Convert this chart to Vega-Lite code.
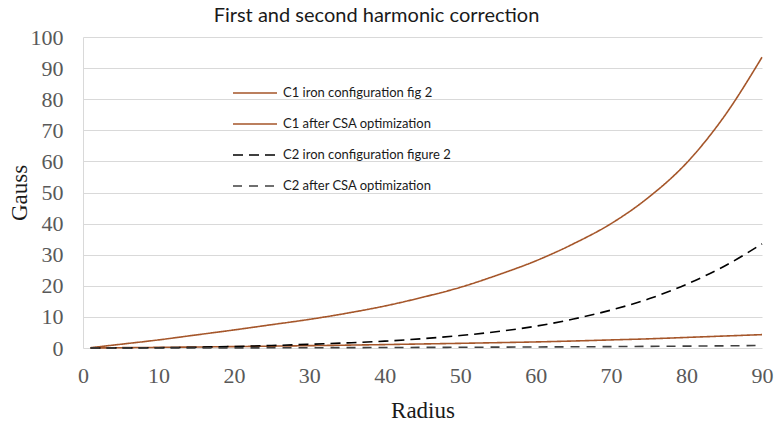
{
  "$schema": "https://vega.github.io/schema/vega-lite/v6.json",
  "autosize": "none",
  "width": 679,
  "height": 311,
  "padding": {"left": 83, "top": 37, "right": 13, "bottom": 77},
  "background": "white",
  "title": {
    "text": "First and second harmonic correction",
    "font": "Lato",
    "fontSize": 20,
    "fontWeight": "normal",
    "color": "#1a1a1a",
    "anchor": "middle",
    "dx": -46,
    "offset": 0
  },
  "data": {
    "values": [
      {"radius": 1, "gauss": 0.1, "series": "C1 iron configuration fig 2"},
      {"radius": 5, "gauss": 1.2, "series": "C1 iron configuration fig 2"},
      {"radius": 10, "gauss": 2.6, "series": "C1 iron configuration fig 2"},
      {"radius": 15, "gauss": 4.2, "series": "C1 iron configuration fig 2"},
      {"radius": 20, "gauss": 5.8, "series": "C1 iron configuration fig 2"},
      {"radius": 25, "gauss": 7.5, "series": "C1 iron configuration fig 2"},
      {"radius": 30, "gauss": 9.2, "series": "C1 iron configuration fig 2"},
      {"radius": 35, "gauss": 11.2, "series": "C1 iron configuration fig 2"},
      {"radius": 40, "gauss": 13.5, "series": "C1 iron configuration fig 2"},
      {"radius": 45, "gauss": 16.3, "series": "C1 iron configuration fig 2"},
      {"radius": 50, "gauss": 19.5, "series": "C1 iron configuration fig 2"},
      {"radius": 55, "gauss": 23.5, "series": "C1 iron configuration fig 2"},
      {"radius": 60, "gauss": 28, "series": "C1 iron configuration fig 2"},
      {"radius": 65, "gauss": 33.5, "series": "C1 iron configuration fig 2"},
      {"radius": 70, "gauss": 40, "series": "C1 iron configuration fig 2"},
      {"radius": 75, "gauss": 48.5, "series": "C1 iron configuration fig 2"},
      {"radius": 80, "gauss": 59.5, "series": "C1 iron configuration fig 2"},
      {"radius": 85, "gauss": 74.5, "series": "C1 iron configuration fig 2"},
      {"radius": 90, "gauss": 93.5, "series": "C1 iron configuration fig 2"},
      {"radius": 1, "gauss": 0, "series": "C1 after CSA optimization"},
      {"radius": 5, "gauss": 0.1, "series": "C1 after CSA optimization"},
      {"radius": 10, "gauss": 0.2, "series": "C1 after CSA optimization"},
      {"radius": 15, "gauss": 0.32, "series": "C1 after CSA optimization"},
      {"radius": 20, "gauss": 0.45, "series": "C1 after CSA optimization"},
      {"radius": 25, "gauss": 0.6, "series": "C1 after CSA optimization"},
      {"radius": 30, "gauss": 0.75, "series": "C1 after CSA optimization"},
      {"radius": 35, "gauss": 0.92, "series": "C1 after CSA optimization"},
      {"radius": 40, "gauss": 1.1, "series": "C1 after CSA optimization"},
      {"radius": 45, "gauss": 1.3, "series": "C1 after CSA optimization"},
      {"radius": 50, "gauss": 1.5, "series": "C1 after CSA optimization"},
      {"radius": 55, "gauss": 1.72, "series": "C1 after CSA optimization"},
      {"radius": 60, "gauss": 1.95, "series": "C1 after CSA optimization"},
      {"radius": 65, "gauss": 2.25, "series": "C1 after CSA optimization"},
      {"radius": 70, "gauss": 2.6, "series": "C1 after CSA optimization"},
      {"radius": 75, "gauss": 2.95, "series": "C1 after CSA optimization"},
      {"radius": 80, "gauss": 3.4, "series": "C1 after CSA optimization"},
      {"radius": 85, "gauss": 3.85, "series": "C1 after CSA optimization"},
      {"radius": 90, "gauss": 4.3, "series": "C1 after CSA optimization"},
      {"radius": 1, "gauss": 0, "series": "C2 iron configuration figure 2"},
      {"radius": 5, "gauss": 0.03, "series": "C2 iron configuration figure 2"},
      {"radius": 10, "gauss": 0.1, "series": "C2 iron configuration figure 2"},
      {"radius": 15, "gauss": 0.25, "series": "C2 iron configuration figure 2"},
      {"radius": 20, "gauss": 0.5, "series": "C2 iron configuration figure 2"},
      {"radius": 25, "gauss": 0.8, "series": "C2 iron configuration figure 2"},
      {"radius": 30, "gauss": 1.2, "series": "C2 iron configuration figure 2"},
      {"radius": 35, "gauss": 1.65, "series": "C2 iron configuration figure 2"},
      {"radius": 40, "gauss": 2.2, "series": "C2 iron configuration figure 2"},
      {"radius": 45, "gauss": 3, "series": "C2 iron configuration figure 2"},
      {"radius": 50, "gauss": 4, "series": "C2 iron configuration figure 2"},
      {"radius": 55, "gauss": 5.3, "series": "C2 iron configuration figure 2"},
      {"radius": 60, "gauss": 7, "series": "C2 iron configuration figure 2"},
      {"radius": 65, "gauss": 9.3, "series": "C2 iron configuration figure 2"},
      {"radius": 70, "gauss": 12.2, "series": "C2 iron configuration figure 2"},
      {"radius": 75, "gauss": 15.8, "series": "C2 iron configuration figure 2"},
      {"radius": 80, "gauss": 20.5, "series": "C2 iron configuration figure 2"},
      {"radius": 85, "gauss": 26.3, "series": "C2 iron configuration figure 2"},
      {"radius": 90, "gauss": 33.5, "series": "C2 iron configuration figure 2"},
      {"radius": 1, "gauss": 0, "series": "C2 after CSA optimization"},
      {"radius": 5, "gauss": 0, "series": "C2 after CSA optimization"},
      {"radius": 10, "gauss": 0.01, "series": "C2 after CSA optimization"},
      {"radius": 15, "gauss": 0.02, "series": "C2 after CSA optimization"},
      {"radius": 20, "gauss": 0.04, "series": "C2 after CSA optimization"},
      {"radius": 25, "gauss": 0.06, "series": "C2 after CSA optimization"},
      {"radius": 30, "gauss": 0.09, "series": "C2 after CSA optimization"},
      {"radius": 35, "gauss": 0.12, "series": "C2 after CSA optimization"},
      {"radius": 40, "gauss": 0.15, "series": "C2 after CSA optimization"},
      {"radius": 45, "gauss": 0.19, "series": "C2 after CSA optimization"},
      {"radius": 50, "gauss": 0.23, "series": "C2 after CSA optimization"},
      {"radius": 55, "gauss": 0.28, "series": "C2 after CSA optimization"},
      {"radius": 60, "gauss": 0.33, "series": "C2 after CSA optimization"},
      {"radius": 65, "gauss": 0.39, "series": "C2 after CSA optimization"},
      {"radius": 70, "gauss": 0.45, "series": "C2 after CSA optimization"},
      {"radius": 75, "gauss": 0.52, "series": "C2 after CSA optimization"},
      {"radius": 80, "gauss": 0.6, "series": "C2 after CSA optimization"},
      {"radius": 85, "gauss": 0.7, "series": "C2 after CSA optimization"},
      {"radius": 90, "gauss": 0.8, "series": "C2 after CSA optimization"}
    ]
  },
  "mark": {"type": "line", "interpolate": "monotone", "clip": false},
  "encoding": {
    "x": {
      "field": "radius",
      "type": "quantitative",
      "scale": {"domain": [0, 90], "nice": false, "zero": false},
      "axis": {
        "title": "Radius",
        "values": [0, 10, 20, 30, 40, 50, 60, 70, 80, 90],
        "grid": false,
        "ticks": false,
        "domain": false,
        "labelFlush": false,
        "labelFont": "Liberation Serif",
        "labelFontSize": 22,
        "labelColor": "#595959",
        "labelPadding": 17,
        "titleFont": "Liberation Serif",
        "titleFontSize": 23,
        "titleFontWeight": "normal",
        "titleColor": "#1a1a1a",
        "titlePadding": 13
      }
    },
    "y": {
      "field": "gauss",
      "type": "quantitative",
      "scale": {"domain": [0, 100], "nice": false},
      "axis": {
        "title": "Gauss",
        "values": [0, 10, 20, 30, 40, 50, 60, 70, 80, 90, 100],
        "grid": true,
        "gridColor": "#d9d9d9",
        "gridWidth": 1,
        "ticks": false,
        "domain": true,
        "domainColor": "#d9d9d9",
        "labelFlush": false,
        "labelFont": "Liberation Serif",
        "labelFontSize": 22,
        "labelColor": "#595959",
        "labelPadding": 20,
        "titleFont": "Liberation Serif",
        "titleFontSize": 23,
        "titleFontWeight": "normal",
        "titleColor": "#1a1a1a",
        "titlePadding": -1
      }
    },
    "color": {
      "field": "series",
      "type": "nominal",
      "scale": {
        "domain": ["C1 iron configuration fig 2", "C1 after CSA optimization", "C2 iron configuration figure 2", "C2 after CSA optimization"],
        "range": ["#a5562a", "#a5562a", "#000000", "#404040"]
      },
      "legend": {
        "title": null,
        "orient": "none",
        "legendX": 149,
        "legendY": 33,
        "symbolType": "stroke",
        "symbolSize": 1936,
        "labelFont": "Lato",
        "labelFontSize": 13,
        "labelColor": "#1a1a1a",
        "labelLimit": 400,
        "labelOffset": 5,
        "rowPadding": 1
      }
    },
    "strokeDash": {
      "field": "series",
      "type": "nominal",
      "scale": {
        "domain": ["C1 iron configuration fig 2", "C1 after CSA optimization", "C2 iron configuration figure 2", "C2 after CSA optimization"],
        "range": [[1, 0], [1, 0], [10, 6], [9, 7]]
      }
    },
    "strokeWidth": {
      "field": "series",
      "type": "nominal",
      "scale": {
        "domain": ["C1 iron configuration fig 2", "C1 after CSA optimization", "C2 iron configuration figure 2", "C2 after CSA optimization"],
        "range": [1.6, 1.6, 3, 2.5]
      }
    }
  },
  "config": {"view": {"stroke": null}}
}
